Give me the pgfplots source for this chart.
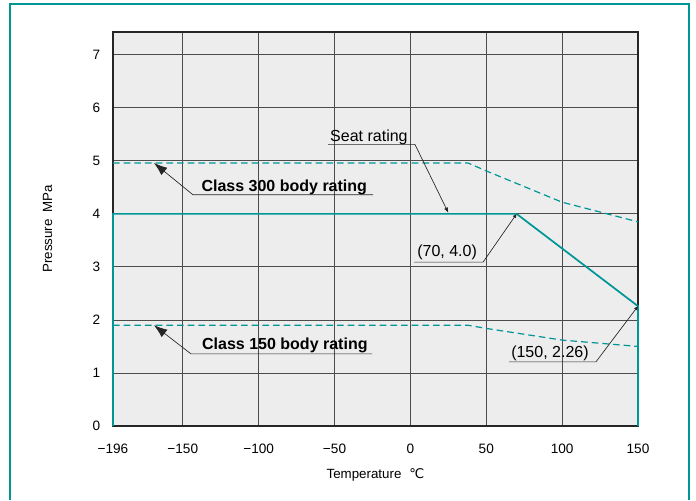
\documentclass[border=0pt]{standalone}
\usepackage{pgfplots}
\pgfplotsset{compat=1.18}
\usepackage{fontspec}
\setmainfont{Liberation Sans}
\newfontfamily\dejavu{DejaVu Sans}
\usetikzlibrary{arrows.meta}
\definecolor{teal1}{RGB}{0,150,150}
\begin{document}
\begin{tikzpicture}
\useasboundingbox (-84.75pt,-55.5pt) rectangle (437.25pt,319.5pt);
\draw[teal1, line width=1.8pt] (-77.25pt,-55.5pt) -- (-77.25pt,316.5pt) -- (432pt,316.5pt) -- (432pt,-55.5pt);
\begin{axis}[at={(0,0)}, anchor=south west, scale only axis,
 width=393.75pt, height=295.5pt,
 xmin=-196, xmax=150, ymin=0, ymax=7.43,
 xtick={-196,-150,-100,-50,0,50,100,150},
 xticklabels={−196,−150,−100,−50,0,50,100,150},
 ytick={0,1,2,3,4,5,6,7},
 major tick length=0pt,
 grid=major, grid style={black!70, line width=0.65pt},
 axis line style={black!85, line width=0.8pt},
 axis background/.style={fill=black!7},
 tick label style={font=\fontsize{10.2}{12}\selectfont},
 /pgf/number format/assume math mode=true,
 xticklabel style={yshift=-10pt},
 yticklabel style={xshift=-6pt},
 xlabel={Temperature\hspace{0.6em}{\dejavu ℃}},
 ylabel={Pressure\hspace{0.5em}MPa},
 label style={font=\fontsize{10}{12}\selectfont},
 xlabel style={at={(axis description cs:0.5,-0.123)}, anchor=center},
 ylabel style={at={(axis description cs:-0.1245,0.5)}, anchor=center},
 clip=false,
]
% Class 300 body rating
\addplot[teal1, line width=0.9pt, dash pattern=on 5pt off 3pt] coordinates {
 (-196,4.96) (38,4.96) (50,4.81) (100,4.22) (150,3.85)};
% Class 150 body rating
\addplot[teal1, line width=0.9pt, dash pattern=on 5pt off 3pt] coordinates {
 (-196,1.90) (38,1.90) (50,1.84) (100,1.62) (150,1.50)};
% Seat rating
\addplot[teal1, line width=1.3pt] coordinates {
 (-196,0) (-196,4.0) (70,4.0) (150,2.26) (150,0)};

% annotations
\draw[black!85, line width=0.5pt, -{Latex[length=4pt,width=3pt]}]
 (axis cs:-54.3,5.31) -- (axis cs:3,5.31) -- (axis cs:25,4.02);
\node[anchor=base west, inner sep=0pt, font=\fontsize{12}{14}\selectfont]
 at (axis cs:-53,5.36) {Seat rating};

\draw[black!85, line width=0.5pt, -{Latex[length=10pt,width=7pt]}]
 (axis cs:-24.6,4.36) -- (axis cs:-143.3,4.36) -- (axis cs:-169,4.96);
\node[anchor=base west, inner sep=0pt, font=\bfseries\fontsize{12}{14}\selectfont]
 at (axis cs:-137.8,4.43) {Class 300 body rating};

\draw[black!85, line width=0.5pt, -{Latex[length=3pt,width=3pt]}]
 (axis cs:2.4,3.09) -- (axis cs:47.9,3.09) -- (axis cs:70,4.0);
\node[anchor=base west, inner sep=0pt, font=\fontsize{12}{14}\selectfont]
 at (axis cs:4.4,3.19) {(70, 4.0)};

\draw[black!85, line width=0.5pt, -{Latex[length=3pt,width=3pt]}]
 (axis cs:65,1.21) -- (axis cs:122.3,1.21) -- (axis cs:150,2.26);
\node[anchor=base west, inner sep=0pt, font=\fontsize{12}{14}\selectfont]
 at (axis cs:66.3,1.29) {(150, 2.26)};

\draw[black!85, line width=0.5pt, -{Latex[length=10pt,width=7pt]}]
 (axis cs:-25.3,1.36) -- (axis cs:-144.6,1.36) -- (axis cs:-169,1.90);
\node[anchor=base west, inner sep=0pt, font=\bfseries\fontsize{12}{14}\selectfont]
 at (axis cs:-137.4,1.45) {Class 150 body rating};
\end{axis}
\end{tikzpicture}
\end{document}
